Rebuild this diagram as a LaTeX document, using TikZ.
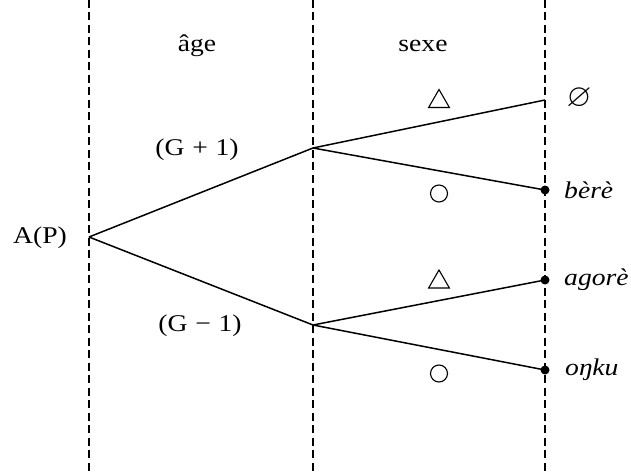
\documentclass[tikz,border=0pt]{standalone}
\usepackage{fontspec}
\usepackage{amssymb}
\setmainfont[FakeStretch=1.15]{Liberation Serif}
\usetikzlibrary{shapes.geometric}
\begin{document}
\begin{tikzpicture}[x=1pt,y=-1pt,
  guide/.style={line width=1.2pt, dash pattern=on 8pt off 4.5pt},
  branch/.style={line width=1.5pt},
  lab/.style={font=\fontsize{24}{26}\selectfont, inner sep=0pt},
  leaf/.style={font=\fontsize{24}{26}\selectfont\itshape, inner sep=0pt, anchor=west},
  tri/.style={draw, regular polygon, regular polygon sides=3, minimum size=24pt, line width=1.1pt, inner sep=0pt},
  circ/.style={draw, circle, minimum size=17pt, line width=1.1pt, inner sep=0pt},
  dot/.style={circle, fill, minimum size=9pt, inner sep=0pt}]
\useasboundingbox (0,0) rectangle (631,473);
% guide lines
\coordinate (g1t) at (89,0); \coordinate (g1b) at (89,473);
\coordinate (g2t) at (313,0); \coordinate (g2b) at (313,473);
\coordinate (g3t) at (545,0); \coordinate (g3b) at (545,473);
\draw[guide] (g1t) -- (g1b);
\draw[guide] (g2t) -- (g2b);
\draw[guide] (g3t) -- (g3b);
% tree points
\coordinate (root) at (89,237);
\coordinate (up) at (313,148);
\coordinate (lo) at (313,325);
\coordinate (e1) at (545,100);
\node[dot] (e2) at (545,190) {};
\node[dot] (e3) at (545,280) {};
\node[dot] (e4) at (545,370) {};
\draw[branch] (root) -- (up);
\draw[branch] (root) -- (lo);
\draw[branch] (up) -- (e1);
\draw[branch] (up) -- (e2.center);
\draw[branch] (lo) -- (e3.center);
\draw[branch] (lo) -- (e4.center);
% labels
\node[lab] (ap) at (40,238) {A(P)};
\node[lab] (age) at (197,46) {âge};
\node[lab] (sexe) at (423,46) {sexe};
\node[lab] (gp) at (197,150) {(G\hspace{0.32em}+\hspace{0.32em}1)};
\node[lab] (gm) at (200,326) {(G\hspace{0.32em}−\hspace{0.32em}1)};
\node[tri] (t1) at (439,101.5) {};
\node[tri] (t2) at (439,282) {};
\node[circ] (c1) at (439,193.5) {};
\node[circ] (c2) at (439,373.5) {};
\node[font=\fontsize{32}{34}\selectfont, inner sep=0pt] (nul) at (579,99) {$\varnothing$};
\node[leaf] (bere) at (564,190) {bèrè};
\node[leaf] (agore) at (564,280) {agorè};
\node[leaf] (onku) at (565,370) {oŋku};
\end{tikzpicture}
\end{document}
